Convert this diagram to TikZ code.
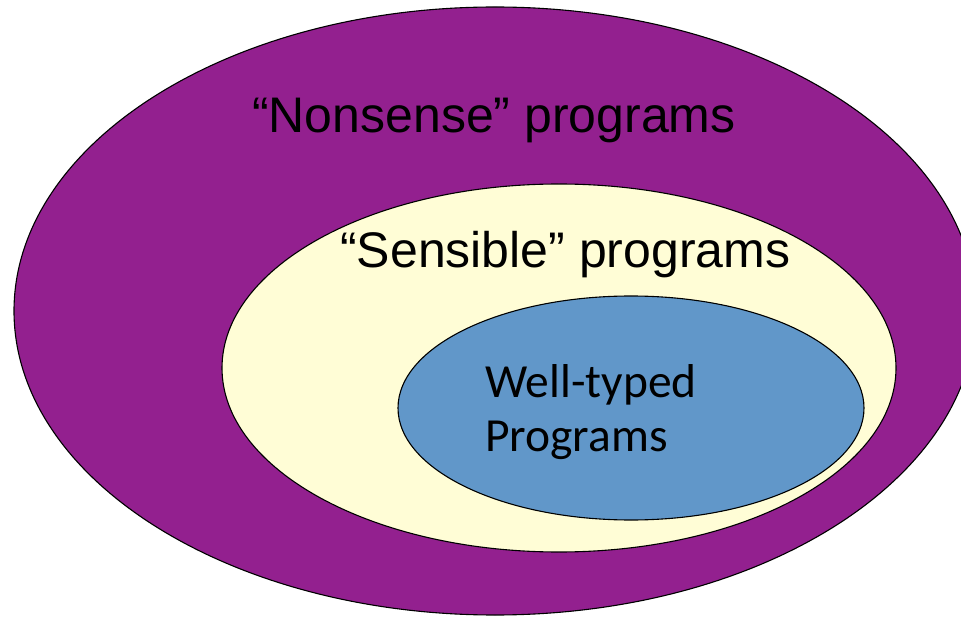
\documentclass[tikz,border=0pt]{standalone}
\usepackage{fontspec}
\setmainfont{Liberation Sans}
\newfontfamily\calibri{Carlito}
\usetikzlibrary{shapes.geometric}
\definecolor{nonsense}{HTML}{93208F}
\definecolor{sensible}{HTML}{FFFDD6}
\definecolor{welltyped}{HTML}{6197C9}
\tikzset{
  blob/.style={ellipse, draw=black, line width=1.1pt, inner sep=0pt},
  bigtext/.style={anchor=base west, inner sep=0pt, font=\fontsize{50}{60}\selectfont},
  smalltext/.style={anchor=base west, inner sep=0pt, font=\calibri\fontsize{47.5}{57}\selectfont}
}
\begin{document}
\begin{tikzpicture}[x=1pt,y=-1pt]
\useasboundingbox (0,0) rectangle (961,617);
\clip (0,0) rectangle (961,617);
\node[blob, fill=nonsense, minimum width=962pt, minimum height=608pt] (outer) at (495,311) {};
\node[blob, fill=sensible, minimum width=674pt, minimum height=368pt] (middle) at (559,368) {};
\node[blob, fill=welltyped, minimum width=466pt, minimum height=224pt] (inner) at (631,408) {};
\node[bigtext] (t1) at (252,133) {“Nonsense” programs};
\node[bigtext] (t2) at (340,268) {“Sensible” programs};
\node[smalltext] (t3) at (485,398) {Well-typed};
\node[smalltext] (t4) at (485,451) {Programs};
\end{tikzpicture}
\end{document}
